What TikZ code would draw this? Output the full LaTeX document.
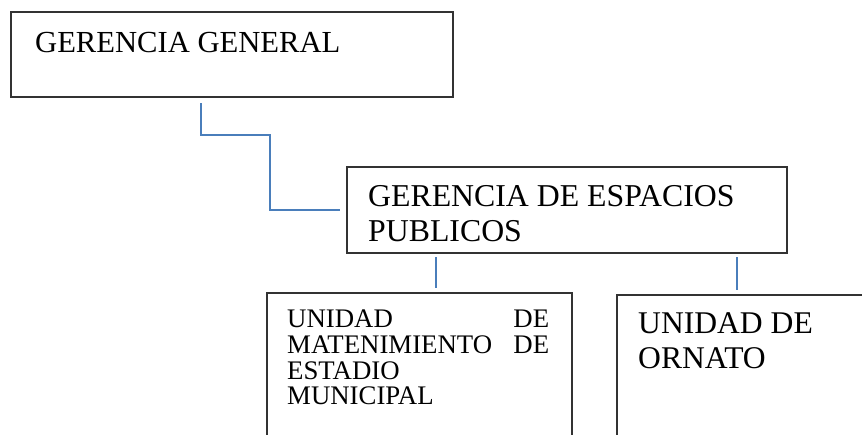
\documentclass[tikz,border=0pt]{standalone}
\usepackage{fontspec}
\setmainfont{Liberation Serif}
\usetikzlibrary{calc}
\definecolor{connblue}{HTML}{4A7EBB}
\definecolor{boxline}{HTML}{333333}
\tikzset{
  orgbox/.style={draw=boxline, line width=1.3pt, rectangle, inner sep=0pt, outer sep=0pt, anchor=north west},
  conn/.style={draw=connblue, line width=1.6pt},
  txt/.style={anchor=base west, inner sep=0pt},
  sizeA/.style={font=\fontsize{30.6}{35}\selectfont},
  sizeB/.style={font=\fontsize{31.8}{35}\selectfont},
  sizeC/.style={font=\fontsize{26.8}{26}\selectfont},
  sizeD/.style={font=\fontsize{31.6}{35}\selectfont}
}
\begin{document}
\begin{tikzpicture}[x=1pt,y=-1pt]
\clip (0,0) rectangle (862,434);
\fill[white] (0,0) rectangle (862,434);
% boxes
\node[orgbox, minimum width=442pt, minimum height=85pt] (b1) at (11,12) {};
\node[orgbox, minimum width=440pt, minimum height=86pt] (b2) at (347,167) {};
\node[orgbox, minimum width=305pt, minimum height=170pt] (b3) at (267,293) {};
\node[orgbox, minimum width=300pt, minimum height=170pt] (b4) at (617,295) {};
% texts
\node[txt, sizeA] (t1) at (35,52) {GERENCIA GENERAL};
\node[txt, sizeB] (t2a) at (368,206) {GERENCIA DE ESPACIOS};
\node[txt, sizeB] (t2b) at (368,241) {PUBLICOS};
\node[txt, sizeC] (t3a) at (287,327) {\makebox[262pt][s]{UNIDAD\hfill DE}};
\node[txt, sizeC] (t3b) at (287,353) {\makebox[262pt][s]{MATENIMIENTO\hfill DE}};
\node[txt, sizeC] (t3c) at (287,379) {ESTADIO};
\node[txt, sizeC] (t3d) at (287,404) {MUNICIPAL};
\node[txt, sizeD] (t4a) at (638,333) {UNIDAD DE};
\node[txt, sizeD] (t4b) at (638,368) {ORNATO};
% connector helpers
\coordinate (k1) at (270,135);
\coordinate (k2) at (436,0);
\coordinate (k3) at (737,0);
% connectors
\draw[conn, shorten <=6pt, shorten >=7pt] ([xshift=190pt]b1.south west) |- (k1) |- (b2.west);
\draw[conn, shorten <=4pt, shorten >=5pt] (b2.south -| k2) -- (b3.north -| k2);
\draw[conn, shorten <=4pt, shorten >=5pt] (b2.south -| k3) -- (b4.north -| k3);
\end{tikzpicture}
\end{document}
